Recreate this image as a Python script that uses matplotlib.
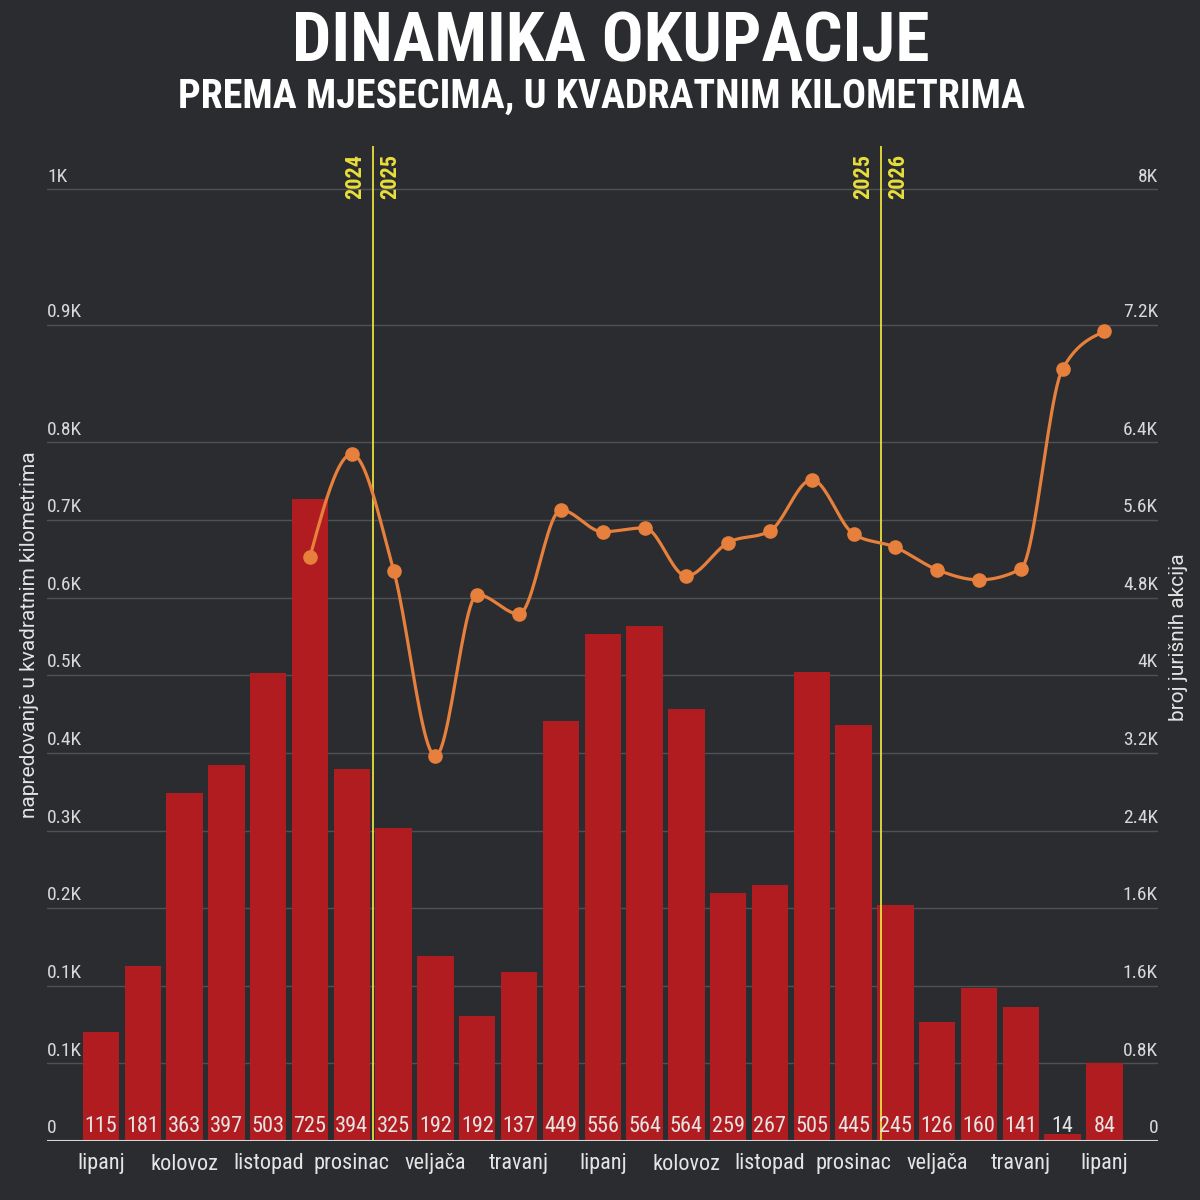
import numpy as np
import matplotlib
matplotlib.use("Agg")
import matplotlib.pyplot as plt
from matplotlib import font_manager

# --- data ---
# bar heights / line values are in "grid steps" (distance between two gridlines)
month_labels = ["lipanj", "kolovoz", "listopad", "prosinac", "veljača", "travanj",
                "lipanj", "kolovoz", "listopad", "prosinac", "veljača", "travanj", "lipanj"]
bar_labels = [115, 181, 363, 397, 503, 725, 394, 325, 192, 192, 137, 449, 556,
              564, 564, 259, 267, 505, 445, 245, 126, 160, 141, 14, 84]
bar_heights = [1.40, 2.26, 4.48, 4.85, 6.03, 8.27, 4.79, 4.03, 2.38, 1.61, 2.18, 5.41, 6.53,
               6.64, 5.57, 3.20, 3.30, 6.04, 5.36, 3.04, 1.53, 1.97, 1.73, 0.09, 1.00]
line_start = 5
line_values = [7.53, 8.85, 7.35, 4.96, 7.04, 6.79, 8.13, 7.85, 7.90, 7.28,
               7.71, 7.86, 8.52, 7.82, 7.65, 7.36, 7.23, 7.37, 9.95, 10.43]
grid_levels = [0, 1, 2, 3, 4, 5, 6, 7, 8, 9, 10.52, 12.26]
left_tick_labels = ["0", "0.1K", "0.1K", "0.2K", "0.3K", "0.4K", "0.5K", "0.6K",
                    "0.7K", "0.8K", "0.9K", "1K"]
right_tick_labels = ["0", "0.8K", "1.6K", "1.6K", "2.4K", "3.2K", "4K", "4.8K",
                     "5.6K", "6.4K", "7.2K", "8K"]
year_splits = [(6.5, "2024", "2025"), (18.65, "2025", "2026")]

BG = "#2b2c30"
RED = "#b01c1f"
ORANGE = "#e6803c"
YELLOW = "#e8df3c"
TXT = "#e4e4e4"

names = {f.name for f in font_manager.fontManager.ttflist}
narrow = next((n for n in ["Roboto Condensed", "Liberation Sans Narrow", "Roboto"] if n in names), "DejaVu Sans")
base = "Roboto" if "Roboto" in names else "DejaVu Sans"
plt.rcParams["font.family"] = base


def monotone_curve(x, y, n=24):
    # monotone cubic (like d3 curveMonotoneX) used only to draw the line smoothly
    x = np.asarray(x, float)
    y = np.asarray(y, float)
    h = np.diff(x)
    s = np.diff(y) / h
    m = np.zeros_like(y)
    for i in range(1, len(y) - 1):
        p = (s[i - 1] * h[i] + s[i] * h[i - 1]) / (h[i - 1] + h[i])
        m[i] = (np.sign(s[i - 1]) + np.sign(s[i])) * min(abs(s[i - 1]), abs(s[i]), 0.5 * abs(p))
    m[0] = (3 * s[0] - m[1]) / 2
    m[-1] = (3 * s[-1] - m[-2]) / 2
    xs, ys = [], []
    for i in range(len(x) - 1):
        t = np.linspace(0, 1, n)
        h00 = 2 * t**3 - 3 * t**2 + 1
        h10 = t**3 - 2 * t**2 + t
        h01 = -2 * t**3 + 3 * t**2
        h11 = t**3 - t**2
        xs.append(x[i] + t * h[i])
        ys.append(h00 * y[i] + h10 * h[i] * m[i] + h01 * y[i + 1] + h11 * h[i] * m[i + 1])
    return np.concatenate(xs), np.concatenate(ys)


fig = plt.figure(figsize=(12, 12), dpi=100, facecolor=BG)
ax = fig.add_axes([47 / 1200, 59 / 1200, 1111 / 1200, 995 / 1200])
ax.set_facecolor(BG)
ax.set_xlim(-1.2915, 25.281)
ax.set_ylim(0, 12.82)
for sp in ax.spines.values():
    sp.set_visible(False)
ax.set_yticks([])

for g in grid_levels[1:]:
    ax.axhline(g, color="#505156", lw=1, zorder=1)
ax.axhline(0, color="#d6d6d6", lw=1.5, zorder=5)

x = np.arange(len(bar_heights))
ax.bar(x, bar_heights, width=0.87, color=RED, zorder=2)
for xi, lab in zip(x, bar_labels):
    ax.text(xi, 0.12, str(lab), ha="center", va="baseline", color=TXT,
            fontsize=16, family=narrow, zorder=6)

# tick labels sit above the gridlines, left and right
for g, l, r in zip(grid_levels, left_tick_labels, right_tick_labels):
    ax.text(0.0, g + 0.05, l, transform=ax.get_yaxis_transform(), ha="left",
            va="bottom", color="#d8d8d8", fontsize=14, family=narrow)
    ax.text(1.0, g + 0.05, r, transform=ax.get_yaxis_transform(), ha="right",
            va="bottom", color="#d8d8d8", fontsize=14, family=narrow)

# year separators
for pos, before, after in year_splits:
    ax.axvline(pos, color=YELLOW, lw=1.3, zorder=4)
    ax.text(pos - 0.41, 12.72, before, rotation=90, ha="center", va="top",
            color=YELLOW, fontsize=16, fontweight="bold", family=narrow)
    ax.text(pos + 0.41, 12.72, after, rotation=90, ha="center", va="top",
            color=YELLOW, fontsize=16, fontweight="bold", family=narrow)

# attack line
lx = np.arange(line_start, line_start + len(line_values))
cx, cy = monotone_curve(lx, line_values)
ax.plot(cx, cy, color=ORANGE, lw=2.3, zorder=7, solid_capstyle="round")
ax.plot(lx, line_values, "o", color=ORANGE, markersize=9.5, zorder=8)

ax.set_xticks(np.arange(0, len(bar_heights), 2))
ax.set_xticklabels(month_labels, family=narrow)
ax.tick_params(axis="x", length=0, pad=9, labelsize=16, labelcolor=TXT)

fig.text(0.509, 1 - 62 / 1200, "DINAMIKA OKUPACIJE", ha="center", va="baseline",
         color="white", fontsize=50, fontweight="bold", family=narrow)
fig.text(0.501, 1 - 108 / 1200, "PREMA MJESECIMA, U KVADRATNIM KILOMETRIMA", ha="center",
         va="baseline", color="white", fontsize=28.8, fontweight="bold", family=narrow)
fig.text(0.025, 1 - 635 / 1200, "napredovanje u kvadratnim kilometrima", rotation=90,
         ha="center", va="center", color=TXT, fontsize=15)
fig.text(0.982, 1 - 637 / 1200, "broj jurišnih akcija", rotation=90,
         ha="center", va="center", color=TXT, fontsize=15)

fig.savefig("out.png", dpi=100, facecolor=BG)
